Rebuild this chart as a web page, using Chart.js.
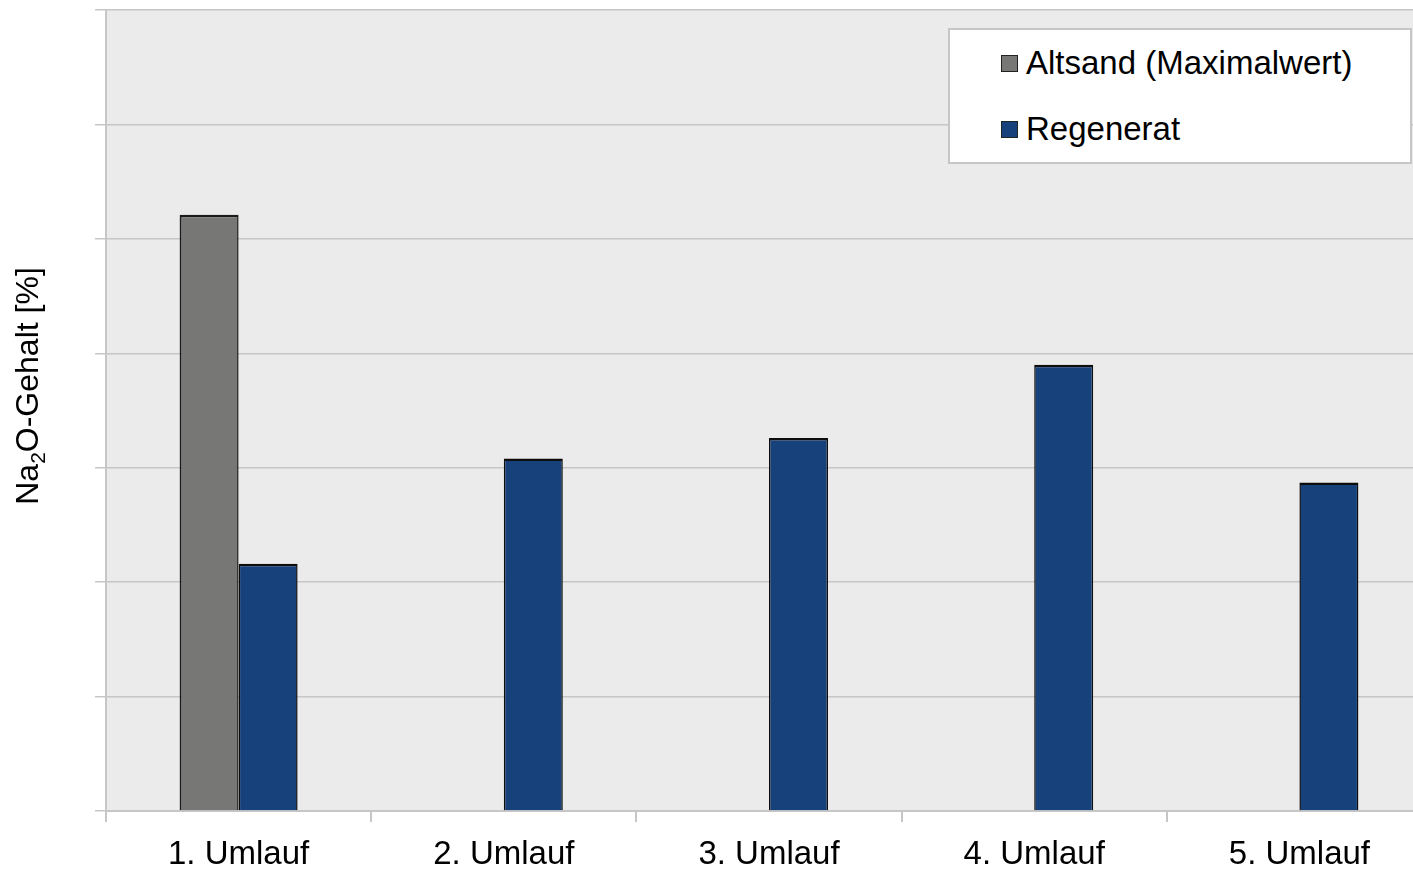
<!DOCTYPE html>
<html lang="de">
<head>
<meta charset="utf-8">
<title>Na2O-Gehalt</title>
<script src="https://cdn.jsdelivr.net/npm/chart.js@4/dist/chart.umd.min.js"></script>
<style>
  html, body { margin: 0; padding: 0; background: #fff; overflow: hidden; }
  #wrap { position: relative; width: 1440px; height: 869px; }
  #legende {
    position: absolute; left: 948px; top: 28px; width: 460px; height: 132px;
    background: #fff; border: 2px solid #c6c6c6;
    font-family: "Liberation Sans", Arial, sans-serif; font-size: 33px; color: #000;
  }
  .leg-item { position: absolute; left: 51px; display: flex; align-items: center; white-space: pre; }
  .leg-box { width: 17px; height: 17px; border: 1px solid #222; margin-right: 8px; box-sizing: border-box; }
</style>
</head>
<body>
<div id="wrap">
  <canvas id="grafico" width="1440" height="869"></canvas>
  <div id="legende"></div>
</div>
<script>
// ===== DATEN =====
const kategorien = ["1. Umlauf", "2. Umlauf", "3. Umlauf", "4. Umlauf", "5. Umlauf"];
const altsand = [5.21, null, null, null, null];
const regenerat = [2.16, 3.08, 3.26, 3.90, 2.87];
const yTicks = [0, 1, 2, 3, 4, 5, 6, 7];

const FONT = '"Liberation Sans", Arial, sans-serif';
const GRID = "#c6c6c6";

// ===== PLUGINS =====
const hintergrund = {
  id: "hintergrund",
  beforeDraw(chart) {
    const { ctx, chartArea: a } = chart;
    ctx.save();
    ctx.fillStyle = "#ebebeb";
    ctx.fillRect(a.left, a.top, a.right - a.left, a.bottom - a.top);
    ctx.restore();
  }
};

// y-Achsentitel mit tiefgestellter 2
const yTitel = {
  id: "yTitel",
  afterDraw(chart) {
    const ctx = chart.ctx;
    const teile = [
      { t: "Na", size: 32, dy: 0 },
      { t: "2", size: 21, dy: 7 },
      { t: "O-Gehalt [%]", size: 32, dy: 0 }
    ];
    let gesamt = 0;
    teile.forEach(p => {
      ctx.font = `${p.size}px ${FONT}`;
      p.w = ctx.measureText(p.t).width;
      gesamt += p.w;
    });
    ctx.save();
    ctx.translate(38, 386);
    ctx.rotate(-Math.PI / 2);
    ctx.fillStyle = "#000";
    ctx.textBaseline = "alphabetic";
    ctx.textAlign = "left";
    let x = -gesamt / 2;
    teile.forEach(p => {
      ctx.font = `${p.size}px ${FONT}`;
      ctx.fillText(p.t, x, p.dy);
      x += p.w;
    });
    ctx.restore();
  }
};

// ===== GRAFIK =====
const ctx = document.getElementById("grafico").getContext("2d");

const grafik = new Chart(ctx, {
  type: "bar",
  data: {
    labels: kategorien,
    datasets: [
      {
        label: "Altsand (Maximalwert)",
        data: altsand,
        backgroundColor: "#777775",
        borderColor: "#1a1a1a",
        borderWidth: { top: 2.5, left: 2, right: 1.5, bottom: 0 },
        categoryPercentage: 0.445,
        barPercentage: 1.0
      },
      {
        label: "Regenerat",
        data: regenerat,
        backgroundColor: "#17417b",
        borderColor: "#0d0d0d",
        borderWidth: { top: 2.5, left: 1.5, right: 1.5, bottom: 0 },
        categoryPercentage: 0.445,
        barPercentage: 1.0
      }
    ]
  },
  options: {
    responsive: false,
    animation: false,
    devicePixelRatio: 1,
    layout: { padding: { left: 95, top: 10, right: 8, bottom: 0 } },
    plugins: {
      legend: { display: false },
      tooltip: { enabled: false }
    },
    scales: {
      x: {
        grid: {
          drawOnChartArea: false,
          drawTicks: true,
          tickLength: 11,
          color: GRID,
          lineWidth: 2,
          offset: true
        },
        border: { color: GRID, width: 2 },
        ticks: {
          color: "#000",
          padding: 13,
          font: { family: FONT, size: 33 }
        },
        afterFit: s => { s.height = 58; }
      },
      y: {
        min: 0,
        max: 7,
        afterBuildTicks: s => { s.ticks = yTicks.map(v => ({ value: v })); },
        grid: { color: GRID, lineWidth: 1.5, tickLength: 11, drawTicks: true },
        border: { color: GRID, width: 2 },
        ticks: { display: false },
        afterFit: s => { s.width = 11; }
      }
    }
  },
  plugins: [hintergrund, yTitel]
});

// ===== LEGENDE =====
const legende = document.getElementById("legende");
grafik.data.datasets.forEach((ds, i) => {
  const item = document.createElement("div");
  item.className = "leg-item";
  item.style.top = (i === 0 ? 14 : 80) + "px";
  item.innerHTML = `<span class="leg-box" style="background:${ds.backgroundColor}"></span><span>${ds.label}</span>`;
  legende.appendChild(item);
});
</script>
</body>
</html>
